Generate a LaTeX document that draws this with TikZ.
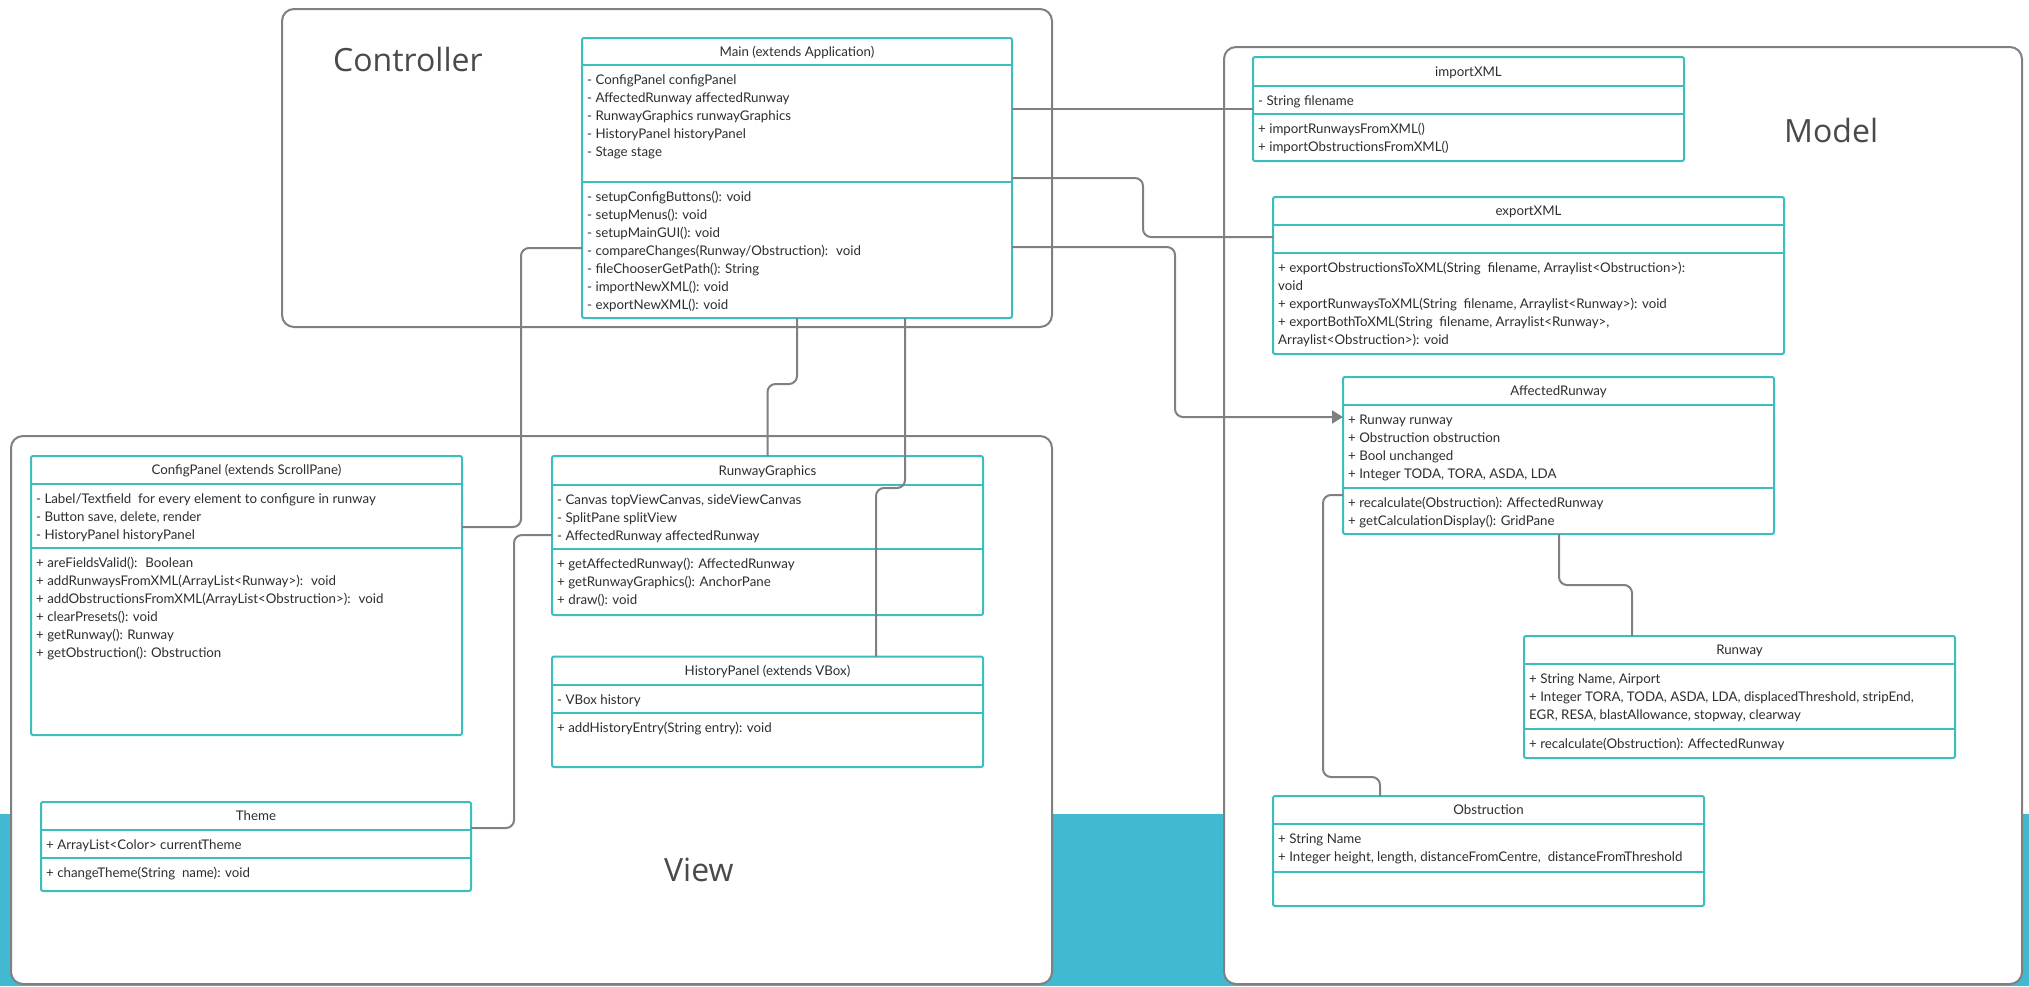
\documentclass[tikz,border=0pt]{standalone}
\usepackage{fontspec}
\setmainfont{Lato}
\newfontfamily\pkgfont{Open Sans}
\usetikzlibrary{arrows.meta,calc}

\definecolor{band}{HTML}{40B9D1}
\definecolor{umlteal}{HTML}{3EBDBD}
\definecolor{wire}{HTML}{808080}
\definecolor{ink}{HTML}{2E2E2E}
\definecolor{pkgink}{HTML}{4A4A4A}

\tikzset{
  pkg/.style={draw=wire, line width=2pt, fill=white, rounded corners=12pt,
    rectangle, anchor=north west, inner sep=0pt, outer sep=0pt},
  classbox/.style={draw=umlteal, line width=2pt, fill=white, rounded corners=2pt,
    rectangle, anchor=north west, inner sep=0pt, outer sep=0pt},
  sepline/.style={draw=umlteal, line width=2pt},
  rowtext/.style={anchor=base west, inner sep=0pt, text=ink,
    font=\fontsize{13.3}{16}\selectfont},
  headtext/.style={anchor=base, inner sep=0pt, text=ink,
    font=\fontsize{13.3}{16}\selectfont},
  pkgtitle/.style={anchor=base west, inner sep=0pt, text=pkgink,
    font=\pkgfont\fontsize{32}{38}\selectfont},
  conn/.style={draw=wire, line width=2pt, rounded corners=8pt},
}

% class box: name, x1, x2, top, title separator, attribute separator, bottom, title
\newcommand\umlbox[8]{%
  \pgfmathsetmacro\ubw{#3-#2}%
  \pgfmathsetmacro\ubh{#7-#4}%
  \node[classbox, minimum width=\ubw pt, minimum height=\ubh pt] (#1) at (#2,#4) {};
  \draw[sepline] (#2,#5) -- (#3,#5);
  \draw[sepline] (#2,#6) -- (#3,#6);
  \node[headtext] (#1-t) at ({(#2+#3)/2},{(#4+#5)/2+4.8}) {#8};
}
% compartment rows: name prefix, left x, separator y, list of rows
\newcommand\umlrows[4]{%
  \foreach \rowtxt [count=\i from 0] in {#4}
    \node[rowtext] (#1\i) at (#2+5,{#3+19.5+18.1*\i}) {\rowtxt};
}

\begin{document}
\begin{tikzpicture}[x=1pt,y=-1pt]
\useasboundingbox (0,0) rectangle (2029,986);
\fill[band] (0,814) rectangle (2029,986);

% packages
\node[pkg, minimum width=770pt, minimum height=318pt] (ctl) at (282,9) {};
\node[pkg, minimum width=1041pt, minimum height=548pt] (view) at (11,436) {};
\node[pkg, minimum width=798pt, minimum height=937pt] (model) at (1224,47) {};
\node[pkgtitle] (ctl-t) at (333,71) {Controller};
\node[pkgtitle] (view-t) at (664,881) {View};
\node[pkgtitle] (model-t) at (1784,142) {Model};

% controller
\umlbox{main}{582}{1012}{38}{65}{181.5}{318}{Main (extends Application)}
\umlrows{main-a}{582}{65}{- ConfigPanel configPanel,- AffectedRunway affectedRunway,
  - RunwayGraphics runwayGraphics,- HistoryPanel historyPanel,- Stage stage}
\umlrows{main-m}{582}{181.5}{- setupConfigButtons(): void,- setupMenus(): void,
  - setupMainGUI(): void,- compareChanges(Runway/Obstruction):~ void,
  - fileChooserGetPath(): String,- importNewXML(): void,- exportNewXML(): void}

% model
\umlbox{imp}{1253}{1684}{57}{86}{114}{161}{importXML}
\umlrows{imp-a}{1253}{86}{- String filename}
\umlrows{imp-m}{1253}{114}{+ importRunwaysFromXML(),+ importObstructionsFromXML()}

\umlbox{exp}{1273}{1784}{197}{225}{253}{354}{exportXML}
\umlrows{exp-m}{1273}{253}{{+ exportObstructionsToXML(String~ filename, Arraylist<Obstruction>):},
  void,{+ exportRunwaysToXML(String~ filename, Arraylist<Runway>): void},
  {+ exportBothToXML(String~ filename, Arraylist<Runway>,},Arraylist<Obstruction>): void}

\umlbox{ar}{1343}{1774}{377}{405}{488}{534}{AffectedRunway}
\umlrows{ar-a}{1343}{405}{+ Runway runway,+ Obstruction obstruction,+ Bool unchanged,
  {+ Integer TODA, TORA, ASDA, LDA}}
\umlrows{ar-m}{1343}{488}{+ recalculate(Obstruction): AffectedRunway,
  + getCalculationDisplay(): GridPane}

\umlbox{rw}{1524}{1955}{636}{664}{729}{758}{Runway}
\umlrows{rw-a}{1524}{664}{{+ String Name, Airport},
  {+ Integer TORA, TODA, ASDA, LDA, displacedThreshold, stripEnd,},
  {EGR, RESA, blastAllowance, stopway, clearway}}
\umlrows{rw-m}{1524}{729}{+ recalculate(Obstruction): AffectedRunway}

\umlbox{obs}{1273}{1704}{796}{824}{872}{906}{Obstruction}
\umlrows{obs-a}{1273}{824}{+ String Name,
  {+ Integer height, length, distanceFromCentre,~ distanceFromThreshold}}

% view
\umlbox{cfg}{31}{462}{456}{484}{547.5}{735}{ConfigPanel (extends ScrollPane)}
\umlrows{cfg-a}{31}{484}{- Label/Textfield~ for every element to configure in runway,
  {- Button save, delete, render},- HistoryPanel historyPanel}
\umlrows{cfg-m}{31}{547.5}{+ areFieldsValid():~ Boolean,
  + addRunwaysFromXML(ArrayList<Runway>):~ void,
  + addObstructionsFromXML(ArrayList<Obstruction>):~ void,
  + clearPresets(): void,+ getRunway(): Runway,+ getObstruction(): Obstruction}

\umlbox{rg}{552}{983}{456}{485}{549}{615}{RunwayGraphics}
\umlrows{rg-a}{552}{485}{{- Canvas topViewCanvas, sideViewCanvas},- SplitPane splitView,
  - AffectedRunway affectedRunway}
\umlrows{rg-m}{552}{549}{+ getAffectedRunway(): AffectedRunway,
  + getRunwayGraphics(): AnchorPane,+ draw(): void}

\umlbox{hp}{552}{983}{656.5}{685}{713}{767}{HistoryPanel (extends VBox)}
\umlrows{hp-a}{552}{685}{- VBox history}
\umlrows{hp-m}{552}{713}{+ addHistoryEntry(String entry): void}

\umlbox{theme}{41}{471}{802}{830}{858}{891}{Theme}
\umlrows{theme-a}{41}{830}{+ ArrayList<Color> currentTheme}
\umlrows{theme-m}{41}{858}{+ changeTheme(String~ name): void}

% associations
\draw[conn] (main.east |- imp.west) -- (imp.west);
\draw[conn] ([yshift=-140pt]main.north east) -- ++(131,0) |- ([yshift=-40pt]exp.north west);
\draw[conn, -{Triangle[length=11pt,width=13pt]}] ([yshift=-209pt]main.north east)
  -- ++(163,0) |- ([yshift=-40pt]ar.north west);
\draw[conn] ([yshift=-210pt]main.north west) -- ++(-61,0) |- ([yshift=-71pt]cfg.north east);
\draw[conn] ([xshift=215pt]main.south west) -- ++(0,66) -| (rg.north);
\draw[conn] ([xshift=323pt]main.south west) -- ++(0,170) -| ([xshift=324pt]hp.north west);
\draw[conn] ([yshift=-79pt]rg.north west) -- ++(-38,0) |- ([yshift=-26pt]theme.north east);
\draw[conn] ([xshift=216pt]ar.south west) -- ++(0,51) -| ([xshift=108pt]rw.north west);
\draw[conn] ([yshift=-118pt]ar.north west) -- ++(-20,0) -- ++(0,282)
  -| ([xshift=107pt]obs.north west);
\end{tikzpicture}
\end{document}
